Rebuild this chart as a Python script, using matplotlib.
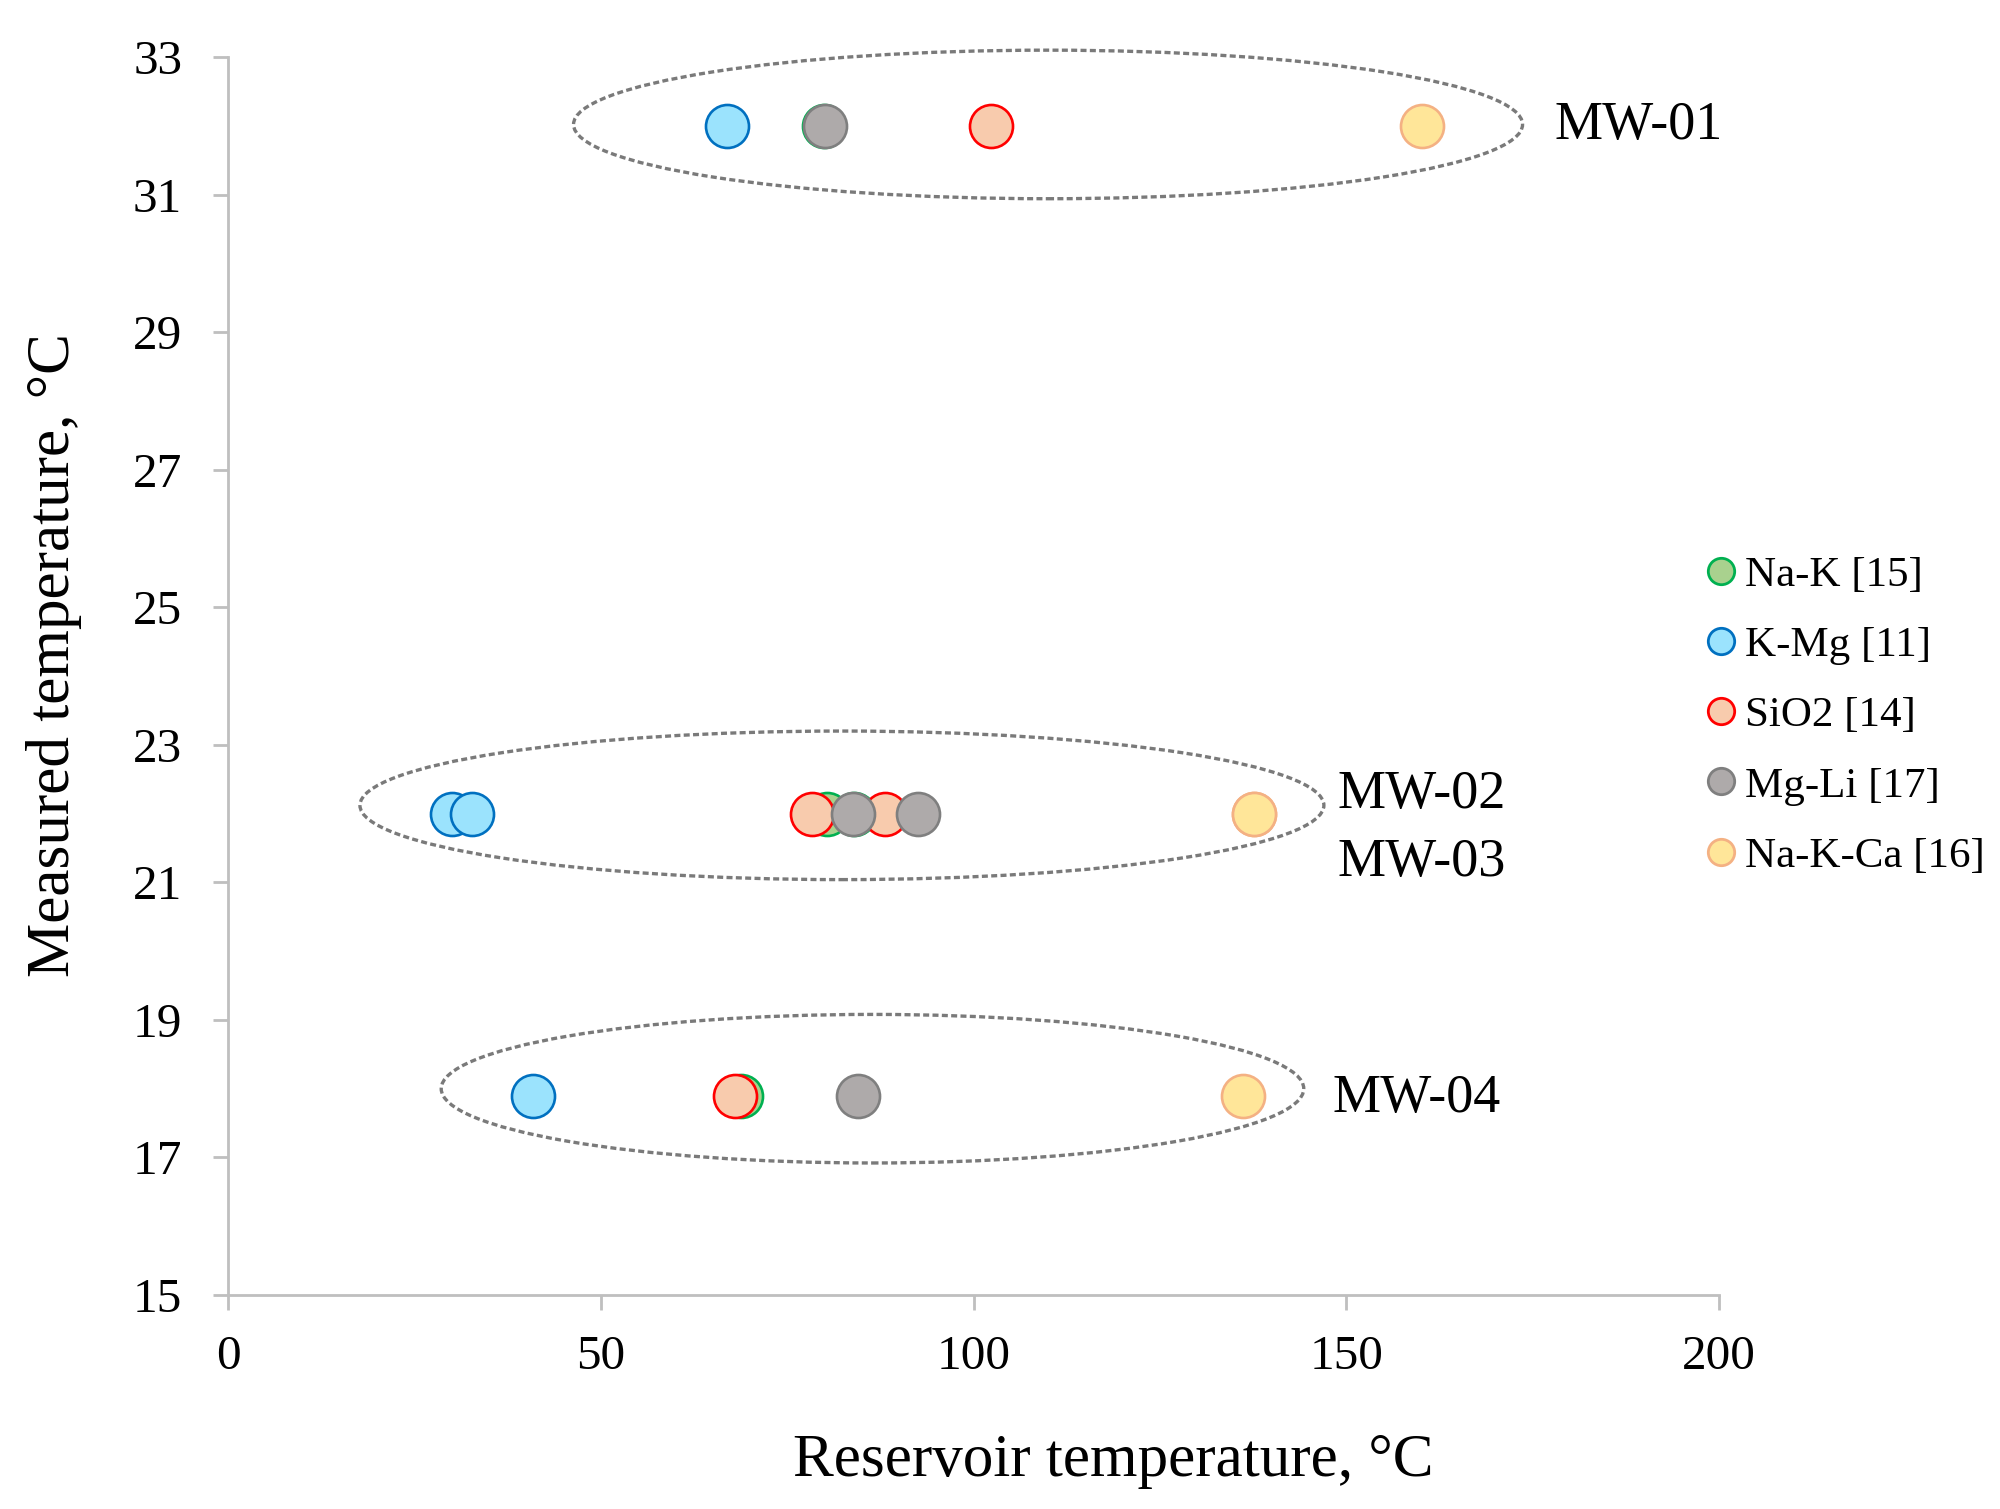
import matplotlib
matplotlib.use("Agg")
import matplotlib.pyplot as plt
from matplotlib.patches import Ellipse
from matplotlib.lines import Line2D

plt.rcParams['font.family'] = ['Liberation Serif', 'DejaVu Serif']

# Data
series_names = ["Na-K [15]", "K-Mg [11]", "SiO2 [14]", "Mg-Li [17]", "Na-K-Ca [16]"]

nak_x = [80.0, 80.3, 84.0, 68.8]
nak_y = [32.0, 22.0, 22.0, 17.9]

kmg_x = [66.9, 30.1, 32.7, 40.9]
kmg_y = [32.0, 22.0, 22.0, 17.9]

sio2_x = [102.3, 78.4, 88.1, 68.0]
sio2_y = [32.0, 22.0, 22.0, 17.9]

mgli_x = [80.1, 83.9, 92.5, 84.5]
mgli_y = [32.0, 22.0, 22.0, 17.9]

nakca_x = [160.2, 137.6, 137.6, 136.2]
nakca_y = [32.0, 22.0, 22.0, 17.9]

well_labels = ["MW-01", "MW-02", "MW-03", "MW-04"]
well_label_x = [177.9, 148.8, 148.8, 148.2]
well_label_y = [32.0, 22.27, 21.28, 17.85]

# groups (center x, center y, width, height)
groups_cx = [110.0, 82.35, 86.45]
groups_cy = [32.02, 22.12, 18.0]
groups_w = [127.3, 129.3, 115.7]
groups_h = [2.16, 2.16, 2.16]

x_ticks = [0, 50, 100, 150, 200]
y_ticks = [15, 17, 19, 21, 23, 25, 27, 29, 31, 33]

faces = ["#a9d18e", "#9be3fd", "#f8cbad", "#aeaaaa", "#ffe699"]
edges = ["#00b050", "#0070c0", "#ff0000", "#7f7f7f", "#f4b183"]

fig = plt.figure(figsize=(20, 15.09), dpi=100)
ax = fig.add_axes([0.114, 0.1418, 0.7455, 0.8204])

all_x = [nak_x, kmg_x, sio2_x, mgli_x, nakca_x]
all_y = [nak_y, kmg_y, sio2_y, mgli_y, nakca_y]
for xs, ys, fc, ec in zip(all_x, all_y, faces, edges):
    ax.scatter(xs, ys, s=960, facecolor=fc, edgecolor=ec, linewidths=1.9, zorder=3)

for cx, cy, w, h in zip(groups_cx, groups_cy, groups_w, groups_h):
    ax.add_patch(Ellipse((cx, cy), w, h, fill=False, edgecolor="#7a7a7a",
                         linewidth=2.4, linestyle=(0, (1.8, 1.0)), zorder=2,
                         clip_on=False))

for lab, lx, ly in zip(well_labels, well_label_x, well_label_y):
    ax.text(lx, ly, lab, fontsize=39, ha="left", va="center", clip_on=False)

ax.set_xlim(0, 200)
ax.set_ylim(15, 33)
ax.set_xticks(x_ticks)
ax.set_yticks(y_ticks)

for side in ["top", "right"]:
    ax.spines[side].set_visible(False)
for side in ["left", "bottom"]:
    ax.spines[side].set_color("#bfbfbf")
    ax.spines[side].set_linewidth(2.0)

ax.tick_params(axis="both", colors="#bfbfbf", width=2.0, length=11,
               labelsize=35.5, labelcolor="black")
ax.tick_params(axis="y", pad=22)
ax.tick_params(axis="x", pad=17.5)

ax.set_xlabel("Reservoir temperature, °C", fontsize=44)
ax.set_ylabel("Measured temperature, °C", fontsize=44)
ax.xaxis.set_label_coords(0.594, -0.112)
ax.yaxis.set_label_coords(-0.098, 0.517)

handles = [Line2D([], [], marker="o", linestyle="", markersize=19,
                  markerfacecolor=fc, markeredgecolor=ec, markeredgewidth=2.0)
           for fc, ec in zip(faces, edges)]
fig.legend(handles, series_names, loc="upper left",
           bbox_to_anchor=(1706 / 2000, 1 - 556 / 1509),
           frameon=False, fontsize=31, handlelength=0.7, handletextpad=0.2,
           labelspacing=0.72, borderpad=0, borderaxespad=0)

fig.savefig("out.png", dpi=100)
